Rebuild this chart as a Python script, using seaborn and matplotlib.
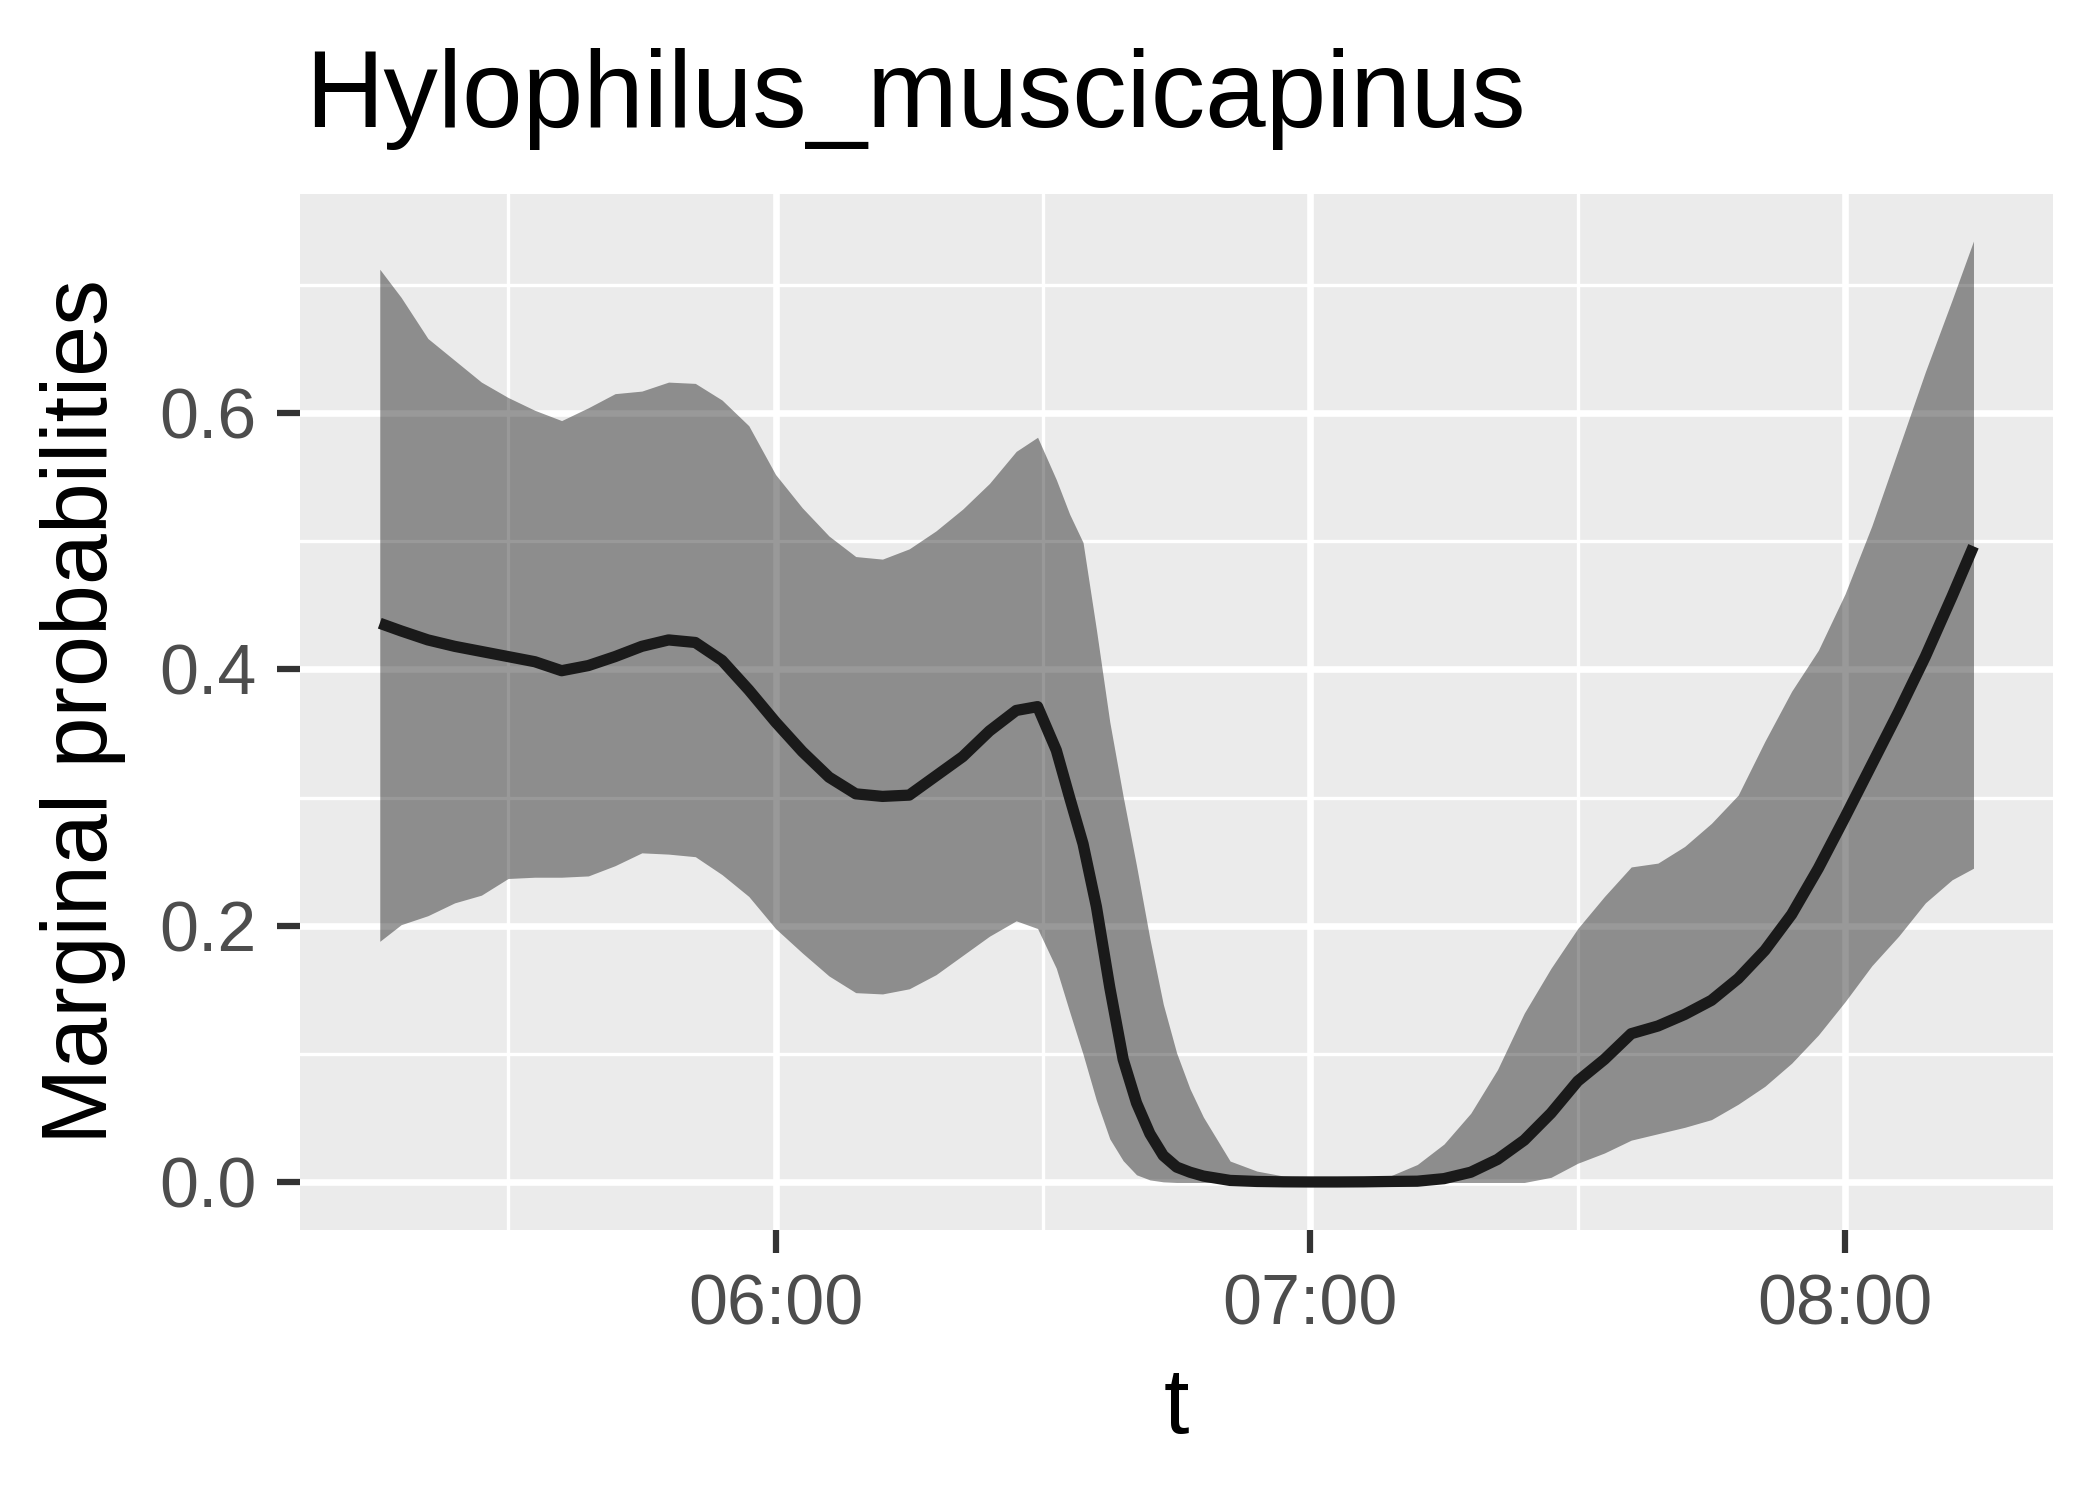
import matplotlib
matplotlib.use("Agg")
import matplotlib.pyplot as plt
import seaborn as sns
import pandas as pd

# ---- data (time in minutes after midnight) ----
times_min = [315.6, 318, 321, 324, 327, 330, 333, 336, 339, 342, 345, 348, 351, 354, 357,
             360, 363, 366, 369, 372, 375, 378, 381,
             384, 387, 389.4, 391.5, 393, 394.5, 396, 397.5, 399, 400.5, 402, 403.5, 405, 406.5, 408,
             411, 414, 417, 420, 423, 426, 429, 432, 435, 438, 441, 444, 447,
             450, 453, 456, 459, 462, 465, 468, 471, 474, 477, 480, 483, 486, 489, 492, 494.4]

mean_prob = [0.436, 0.430, 0.423, 0.418, 0.414, 0.410, 0.406, 0.399, 0.403, 0.410,
             0.418, 0.423, 0.421, 0.407, 0.384, 0.359, 0.336, 0.316, 0.303, 0.301,
             0.302, 0.317, 0.332,
             0.352, 0.368, 0.371, 0.337, 0.300, 0.264, 0.215, 0.152, 0.096, 0.062,
             0.038, 0.021, 0.012, 0.008, 0.005,
             0.0016, 0.0008, 0.0005, 0.0004, 0.0004, 0.0005, 0.0008, 0.001,
             0.003, 0.008, 0.018, 0.033, 0.054, 0.079, 0.096, 0.116, 0.122, 0.131,
             0.142, 0.159, 0.181, 0.209, 0.245, 0.285, 0.326, 0.367, 0.410, 0.457, 0.496]

upper_prob = [0.712, 0.690, 0.658, 0.641, 0.624, 0.612, 0.602, 0.594, 0.604, 0.615,
              0.617, 0.624, 0.623, 0.610, 0.590, 0.552, 0.526, 0.504, 0.488, 0.486,
              0.494, 0.508, 0.525,
              0.545, 0.570, 0.581, 0.548, 0.521, 0.499, 0.431, 0.359, 0.301, 0.247,
              0.190, 0.139, 0.101, 0.073, 0.051,
              0.0167, 0.0089, 0.005, 0.0039, 0.004, 0.004, 0.0052, 0.014,
              0.030, 0.054, 0.088, 0.132, 0.167, 0.198, 0.223, 0.246, 0.249, 0.262,
              0.280, 0.302, 0.344, 0.383, 0.415, 0.459, 0.512, 0.572, 0.632, 0.688, 0.734]

lower_prob = [0.188, 0.201, 0.208, 0.218, 0.224, 0.237, 0.238, 0.238, 0.239, 0.247,
              0.257, 0.256, 0.254, 0.240, 0.223, 0.198, 0.179, 0.161, 0.148, 0.147,
              0.151, 0.162, 0.177,
              0.192, 0.204, 0.198, 0.167, 0.133, 0.100, 0.064, 0.034, 0.017, 0.006,
              0.002, 0.0005, 0.0, 0.0, 0.0,
              0.0, 0.0, 0.0, 0.0, 0.0, 0.0, 0.0, 0.0,
              0.0, 0.0, 0.0, 0.0, 0.004, 0.015, 0.023, 0.033, 0.038, 0.043,
              0.049, 0.061, 0.075, 0.093, 0.115, 0.141, 0.169, 0.192, 0.218, 0.236, 0.245]

x_tick_pos = [360, 420, 480]
x_tick_labels = ["06:00", "07:00", "08:00"]
x_minor_pos = [330, 390, 450]
y_tick_pos = [0.0, 0.2, 0.4, 0.6]
y_tick_labels = ["0.0", "0.2", "0.4", "0.6"]
y_minor_pos = [0.1, 0.3, 0.5, 0.7]

title_text = "Hylophilus_muscicapinus"
x_title = "t"
y_title = "Marginal probabilities"

df = pd.DataFrame({"t": times_min, "mean": mean_prob, "lo": lower_prob, "hi": upper_prob})

sns.set_theme(style="darkgrid")
plt.rcParams["font.family"] = ["Liberation Sans", "DejaVu Sans"]

fig = plt.figure(figsize=(7, 5), dpi=300)
ax = fig.add_axes([0.1429, 0.1803, 0.8348, 0.6904])
ax.set_facecolor("#EBEBEB")

ax.fill_between(df["t"], df["lo"], df["hi"], color="black", alpha=0.4,
                linewidth=0, zorder=2)
sns.lineplot(data=df, x="t", y="mean", ax=ax, color="#1A1A1A", linewidth=2.7,
             zorder=3, solid_capstyle="butt", solid_joinstyle="round")

span_x = max(times_min) - min(times_min)
ax.set_xlim(min(times_min) - 0.05 * span_x, max(times_min) + 0.05 * span_x)
span_y = max(upper_prob) - min(lower_prob)
ax.set_ylim(min(lower_prob) - 0.05 * span_y, max(upper_prob) + 0.05 * span_y)

ax.set_xticks(x_tick_pos)
ax.set_xticklabels(x_tick_labels)
ax.set_xticks(x_minor_pos, minor=True)
ax.set_yticks(y_tick_pos)
ax.set_yticklabels(y_tick_labels)
ax.set_yticks(y_minor_pos, minor=True)

ax.set_axisbelow(True)
ax.grid(which="major", color="white", linewidth=1.6)
ax.grid(which="minor", color="white", linewidth=0.8)
for s in ax.spines.values():
    s.set_visible(False)

ax.tick_params(which="major", length=5.5, width=1.5, color="#333333",
               labelsize=16.8, labelcolor="#4D4D4D", pad=5,
               bottom=True, left=True)
ax.tick_params(which="minor", length=0)

ax.set_xlabel("")
ax.set_ylabel("")

fig.text(305 / 2100, 1 - 127 / 1500, title_text, fontsize=26.1, color="black",
         ha="left", va="baseline")
fig.text(0.5 * (0.1429 + 0.1429 + 0.8348), 1 - 1433 / 1500, x_title, fontsize=22,
         color="black", ha="center", va="baseline")
fig.text(83 / 2100, 0.1803 + 0.6904 / 2, y_title, fontsize=22, color="black",
         ha="center", va="center", rotation=90)

fig.savefig("out.png", dpi=300)
